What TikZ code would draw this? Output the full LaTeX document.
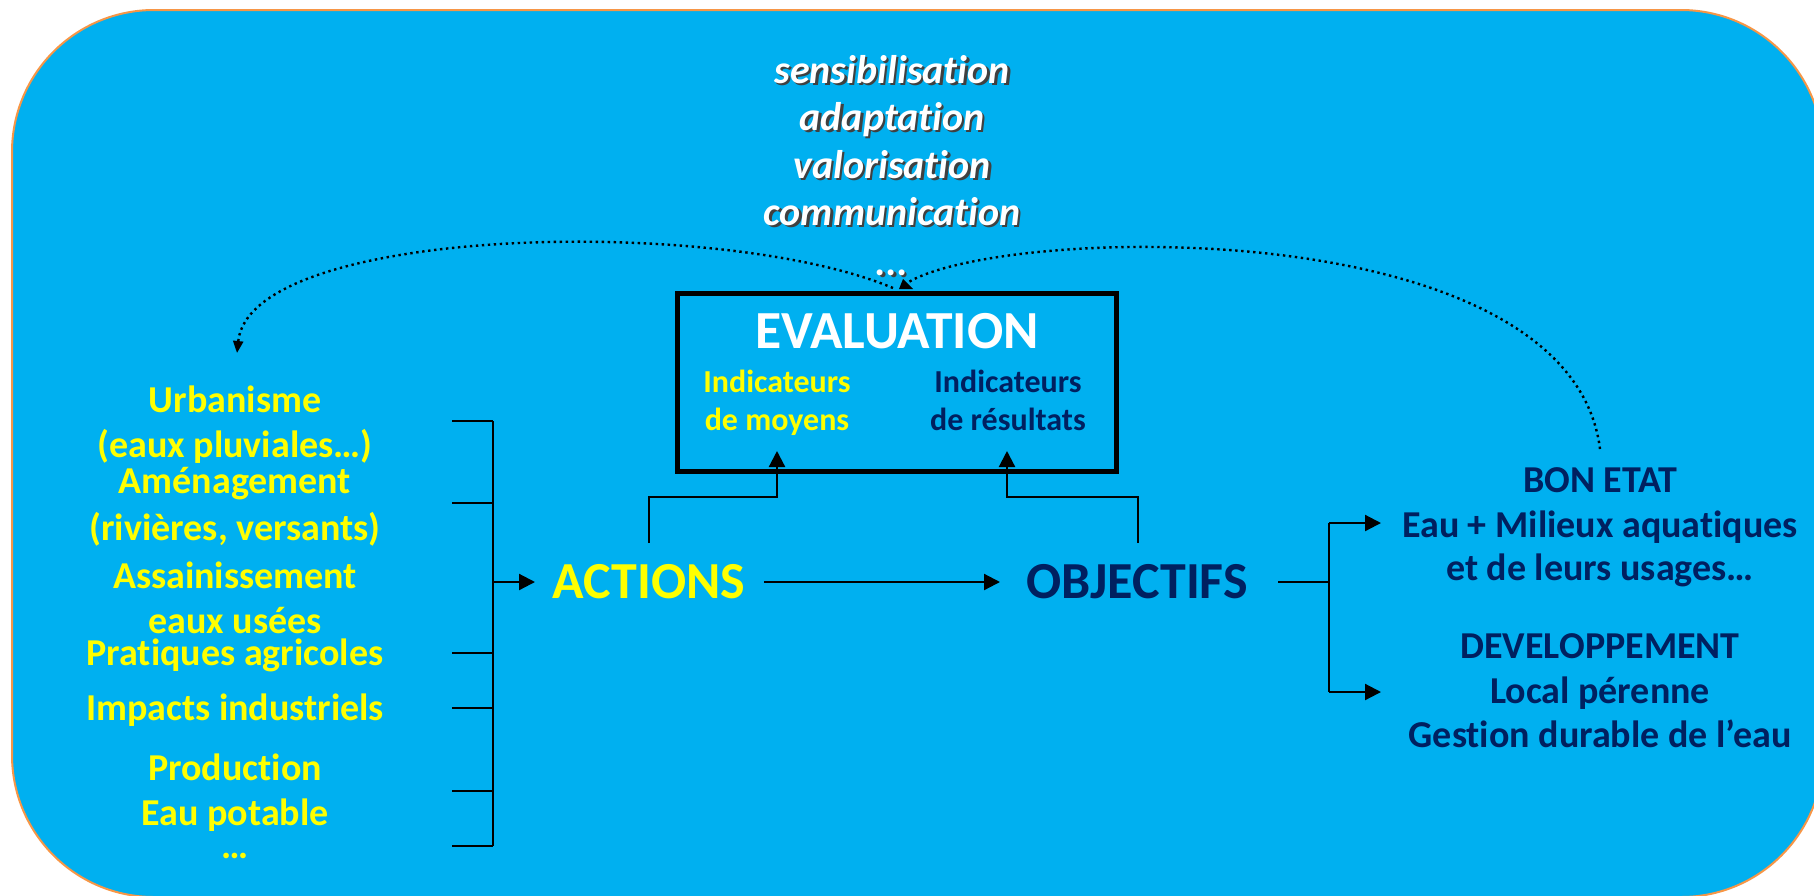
\documentclass[tikz,border=0pt]{standalone}
\usepackage{fontspec}
\setmainfont{Carlito}[Ligatures=NoCommon]
\usetikzlibrary{arrows.meta}
\definecolor{bgcyan}{HTML}{00B0F0}
\definecolor{navy}{HTML}{002060}
\definecolor{yel}{HTML}{FFFF00}
\definecolor{orng}{HTML}{F79646}
\newcommand\shtext[1]{\makebox[0pt][l]{\kern1.2pt\raisebox{-1.2pt}{\color{black!75}#1}}#1}
\begin{document}
\begin{tikzpicture}[x=0.5pt,y=-0.5pt,
  lst/.style={anchor=base,text=yel,font=\bfseries\fontsize{19}{22}\selectfont,inner sep=0pt},
  rgt/.style={anchor=base,text=navy,font=\bfseries\fontsize{19}{22}\selectfont,inner sep=0pt},
  topword/.style={anchor=base,text=white,font=\bfseries\itshape\fontsize{20}{24}\selectfont,inner sep=0pt},
  indic/.style={anchor=base,font=\bfseries\fontsize{16}{18}\selectfont,inner sep=0pt},
  big/.style={anchor=base,font=\bfseries\fontsize{26}{30}\selectfont,inner sep=0pt},
  conn/.style={line width=1.1pt,draw=black},
  arr/.style={conn,-{Triangle[length=8pt,width=8pt]}},
  dotline/.style={line width=1.2pt,dash pattern=on 1.2pt off 1.8pt}
]
\useasboundingbox (0,0) rectangle (1814,895);
\begin{scope}
\clip (0,0) rectangle (1814,895);
\draw[fill=bgcyan,draw=orng,line width=1pt,rounded corners=71pt] (12,10) rectangle (1823,897);
\end{scope}

% top words
\node[topword] (w1) at (892,83) {\shtext{sensibilisation}};
\node[topword] (w2) at (892,130) {\shtext{adaptation}};
\node[topword] (w3) at (892,178) {\shtext{valorisation}};
\node[topword] (w4) at (892,225) {\shtext{communication}};
\node[topword] (w5) at (892,275) {\shtext{...}};

% evaluation box
\node (eval) [draw=black,line width=2.5pt,minimum width=219.5pt,minimum height=89pt,inner sep=0pt] at (896.5,382) {};
\fill (899,289) -- (903,279) -- (913,289) -- cycle;
\node[big,text=white,font=\bfseries\fontsize{26.8}{30}\selectfont] (evt) at (897,348) {EVALUATION};
\node[indic,text=yel] (im1) at (777,392) {Indicateurs};
\node[indic,text=yel] (im2) at (777,430) {de moyens};
\node[indic,text=navy] (ir1) at (1008,392) {Indicateurs};
\node[indic,text=navy] (ir2) at (1008,430) {de résultats};

% left list
\node[lst] (l1) at (235,412) {Urbanisme};
\node[lst] (l2) at (235,457) {(eaux pluviales…)};
\node[lst] (l3) at (235,493) {Aménagement};
\node[lst] (l4) at (235,540) {(rivières, versants)};
\node[lst] (l5) at (235,588) {Assainissement};
\node[lst] (l6) at (235,633) {eaux usées};
\node[lst] (l7) at (235,665) {Pratiques agricoles};
\node[lst] (l8) at (235,720) {Impacts industriels};
\node[lst] (l9) at (235,780) {Production};
\node[lst] (l10) at (235,825) {Eau potable};
\node[lst] (l11) at (235,858) {…};

% actions / objectifs
\node[big,text=yel] (act) at (649,598) {ACTIONS};
\node[big,text=navy] (obj) at (1137,598) {OBJECTIFS};

% right block
\node[rgt] (r1) at (1600,492) {BON ETAT};
\node[rgt] (r2) at (1600,537) {Eau + Milieux aquatiques};
\node[rgt] (r3) at (1600,580) {et de leurs usages…};
\node[rgt] (r4) at (1600,658) {DEVELOPPEMENT};
\node[rgt] (r5) at (1600,703) {Local pérenne};
\node[rgt] (r6) at (1600,747) {Gestion durable de l’eau};

% bracket
\coordinate (bt) at (493,421);
\coordinate (bb) at (493,846);
\draw[conn] (bt) -- (bb);
\foreach \yy in {421,503,653,708,791,846} \draw[conn] (452,\yy) -- (493,\yy);
\coordinate (bm) at (493,582);
\coordinate (actin) at (535,582);
\draw[arr] (bm) -- (actin);

% actions -> objectifs
\coordinate (actout) at (764,582);
\coordinate (objin) at (1000,582);
\draw[arr] (actout) -- (objin);

% into evaluation
\coordinate (actTop) at (649,543);
\coordinate (objTop) at (1138,543);
\coordinate (inMoy) at (777,451);
\coordinate (inRes) at (1007,451);
\draw[arr] (actTop) |- (777,497) -- (inMoy);
\draw[arr] (objTop) |- (1007,497) -- (inRes);

% objectifs -> right
\coordinate (objout) at (1278,582);
\coordinate (br) at (1329,582);
\coordinate (ra1) at (1381,523);
\coordinate (ra2) at (1381,692);
\draw[conn] (objout) -- (br);
\draw[conn] (1329,523) -- (1329,692);
\draw[arr] (1329,523) -- (ra1);
\draw[arr] (1329,692) -- (ra2);

% dotted arcs
\coordinate (evL) at (893,288);
\coordinate (evR) at (907,283);
\coordinate (urbIn) at (237,353);
\coordinate (bonOut) at (1600,449);
\draw[dotline,-{Triangle[length=6pt,width=5pt]}] (evL) .. controls (720,215) and (250,225) .. (urbIn);
\draw[dotline] (bonOut) .. controls (1570,210) and (1000,225) .. (evR);
\end{tikzpicture}
\end{document}
